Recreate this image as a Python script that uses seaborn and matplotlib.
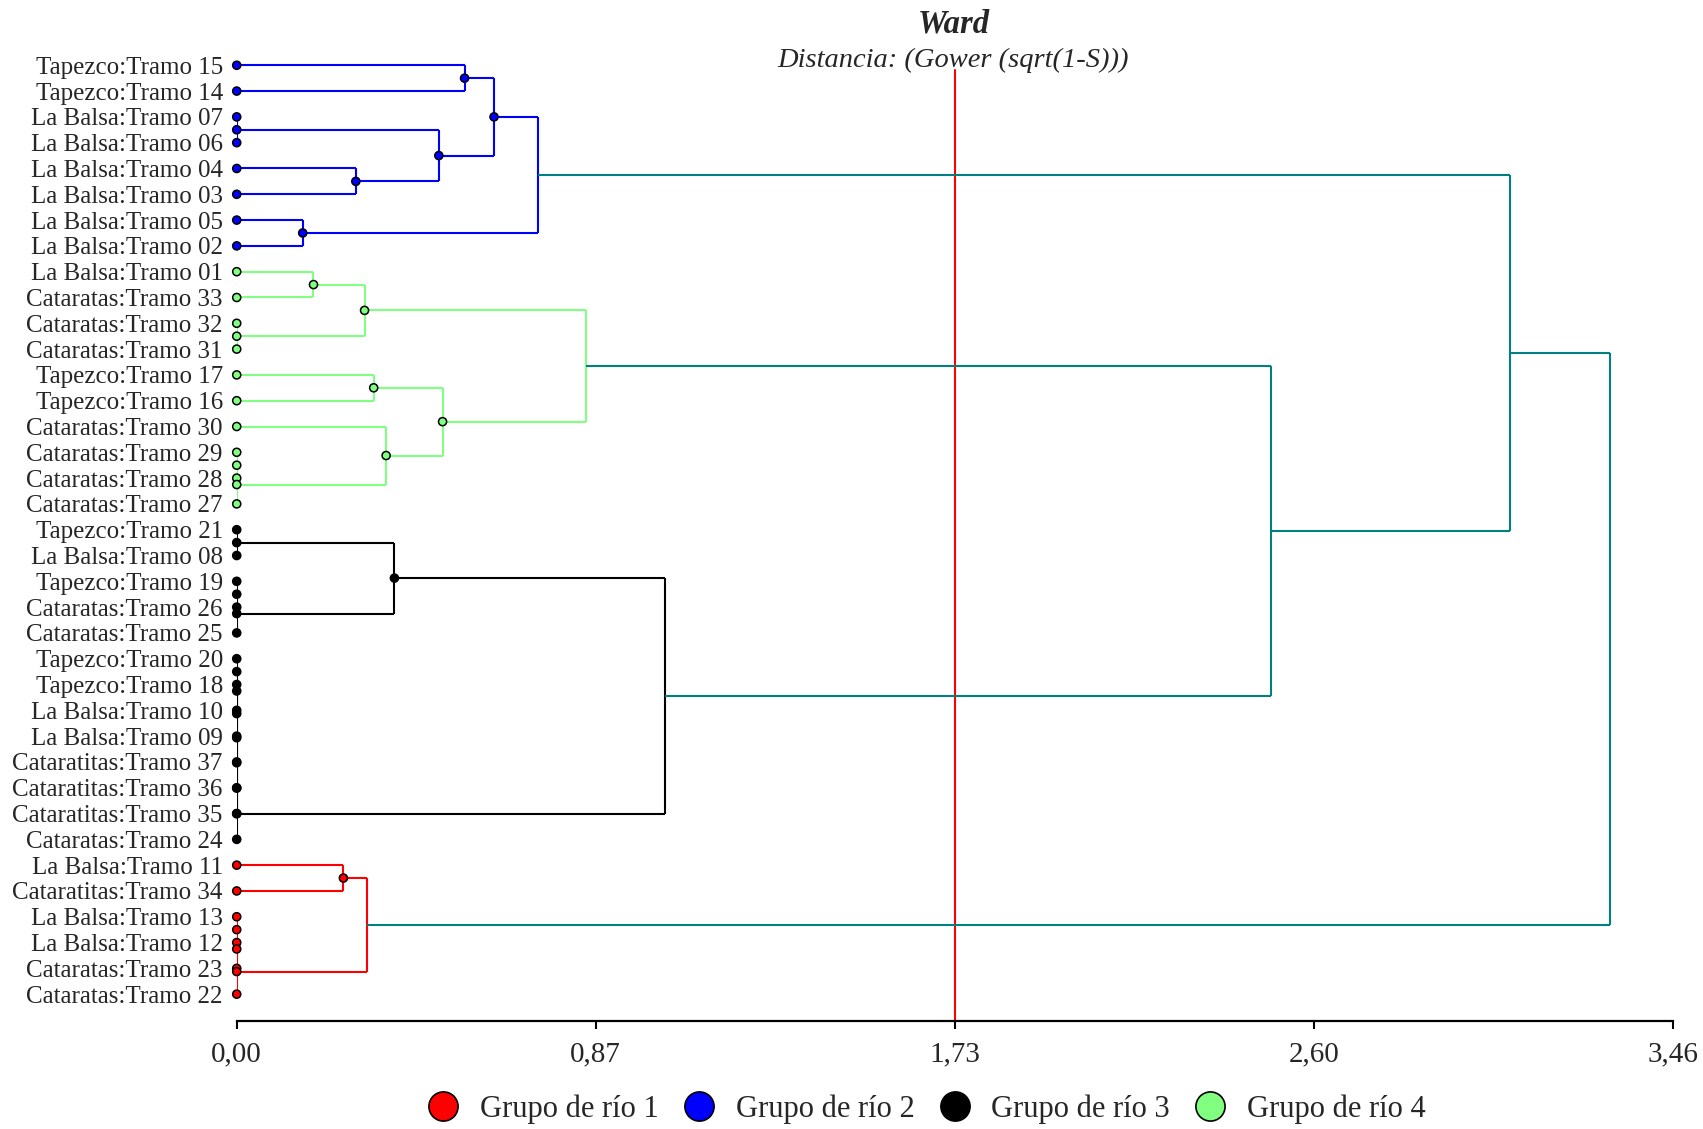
import numpy as np
import pandas as pd
import matplotlib
matplotlib.use("Agg")
import matplotlib.pyplot as plt
from matplotlib.lines import Line2D
import seaborn as sns

# ---- data -------------------------------------------------------------
leaf_labels = [
    "Tapezco:Tramo 15", "Tapezco:Tramo 14", "La Balsa:Tramo 07", "La Balsa:Tramo 06",
    "La Balsa:Tramo 04", "La Balsa:Tramo 03", "La Balsa:Tramo 05", "La Balsa:Tramo 02",
    "La Balsa:Tramo 01", "Cataratas:Tramo 33", "Cataratas:Tramo 32", "Cataratas:Tramo 31",
    "Tapezco:Tramo 17", "Tapezco:Tramo 16", "Cataratas:Tramo 30", "Cataratas:Tramo 29",
    "Cataratas:Tramo 28", "Cataratas:Tramo 27", "Tapezco:Tramo 21", "La Balsa:Tramo 08",
    "Tapezco:Tramo 19", "Cataratas:Tramo 26", "Cataratas:Tramo 25", "Tapezco:Tramo 20",
    "Tapezco:Tramo 18", "La Balsa:Tramo 10", "La Balsa:Tramo 09", "Cataratitas:Tramo 37",
    "Cataratitas:Tramo 36", "Cataratitas:Tramo 35", "Cataratas:Tramo 24", "La Balsa:Tramo 11",
    "Cataratitas:Tramo 34", "La Balsa:Tramo 13", "La Balsa:Tramo 12", "Cataratas:Tramo 23",
    "Cataratas:Tramo 22",
]
leaf_groups = [2, 2, 2, 2, 2, 2, 2, 2,
               4, 4, 4, 4, 4, 4, 4, 4, 4, 4,
               3, 3, 3, 3, 3, 3, 3, 3, 3, 3, 3, 3, 3,
               1, 1, 1, 1, 1, 1]

# Ward linkage: each row joins two clusters (leaf ids 0..36, new ids from 37)
merge_left = [2, 4, 0, 37, 39, 6, 41,
              10, 8, 45, 12, 15, 48, 14, 47, 46,
              18, 20, 54, 53, 23, 57, 58, 59, 60, 61, 62, 56,
              31, 33, 66, 67, 65,
              52, 43, 71]
merge_right = [3, 5, 1, 38, 40, 7, 42,
               11, 9, 44, 13, 16, 17, 49, 50, 51,
               19, 21, 22, 55, 24, 25, 26, 27, 28, 29, 30, 63,
               32, 34, 35, 36, 68,
               64, 70, 69]
merge_height = [0.0, 0.287, 0.549, 0.487, 0.620, 0.159, 0.725,
                0.0, 0.185, 0.308, 0.330, 0.0, 0.0, 0.360, 0.496, 0.841,
                0.0, 0.0, 0.0, 0.380, 0.0, 0.0, 0.0, 0.0, 0.0, 0.0, 0.0, 1.033,
                0.257, 0.0, 0.0, 0.0, 0.314,
                2.492, 3.068, 3.310]

cut_height = 1.73
x_ticks = [0.0, 0.865, 1.73, 2.595, 3.46]
x_tick_labels = ["0,00", "0,87", "1,73", "2,60", "3,46"]
group_ids = [1, 2, 3, 4]
group_names = ["Grupo de río 1", "Grupo de río 2", "Grupo de río 3", "Grupo de río 4"]
group_colors = ["#FF0000", "#0000FF", "#000000", "#80FF80"]
upper_color = "#008080"

# ---- style ------------------------------------------------------------
sns.set_theme(style="white")
plt.rcParams["font.family"] = ["Liberation Serif", "DejaVu Serif"]
palette = dict(zip(group_ids, group_colors))

fig = plt.figure(figsize=(17.03, 11.29), dpi=100)
ax = fig.add_axes([0.1390, 0.0959, 0.8432, 0.8680])

# ---- tree geometry ----------------------------------------------------
n = len(leaf_labels)
node_x = [0.0] * n
node_y = [float(i) for i in range(n)]
node_group = list(leaf_groups)
parent = {}
for k, (a, b, h) in enumerate(zip(merge_left, merge_right, merge_height)):
    nid = n + k
    g = node_group[a] if (node_group[a] == node_group[b] and h < cut_height) else None
    node_x.append(h)
    node_y.append((node_y[a] + node_y[b]) / 2.0)
    node_group.append(g)
    parent[a] = nid
    parent[b] = nid
    color = palette[g] if g is not None else upper_color
    ax.plot([h, h], [node_y[a], node_y[b]], color=color, lw=1.5,
            solid_capstyle="butt", zorder=2)
    for c in (a, b):
        ax.plot([node_x[c], h], [node_y[c], node_y[c]], color=color, lw=1.5,
                solid_capstyle="butt", zorder=2)

# dots on leaves and on inner nodes inside each group
dot_rows = []
for i in range(len(node_x)):
    g = node_group[i]
    if g is None:
        continue
    if i >= n and node_group[parent[i]] != g:
        continue
    dot_rows.append({"x": node_x[i], "y": node_y[i], "grupo": g})
dots = pd.DataFrame(dot_rows)
sns.scatterplot(data=dots, x="x", y="y", hue="grupo", palette=palette, s=34,
                edgecolor="black", linewidth=1.1, legend=False, zorder=5,
                clip_on=False, ax=ax)

# cut line
ax.plot([cut_height, cut_height], [0.2, 37.03], color="#FF0000", lw=1.5, zorder=1)

# ---- axes -------------------------------------------------------------
ax.set_xlim(x_ticks[0], x_ticks[-1])
ax.set_ylim(37.03, -0.95)
ax.set_xticks(x_ticks, x_tick_labels)
ax.set_yticks(range(n), leaf_labels)
ax.set_xlabel("")
ax.set_ylabel("")
ax.tick_params(axis="y", length=0, pad=10, labelsize=18)
ax.tick_params(axis="x", direction="out", length=6, width=1.5, pad=9,
               labelsize=21, bottom=True, color="black")
sns.despine(ax=ax, left=True, top=True, right=True)
ax.spines["bottom"].set_linewidth(1.6)
ax.spines["bottom"].set_color("black")

# ---- titles -----------------------------------------------------------
fig.text(0.5599, 0.9785, "Ward", ha="center", va="center", fontsize=23.5,
         fontweight="bold", fontstyle="italic")
fig.text(0.5599, 0.9465, "Distancia: (Gower (sqrt(1-S)))", ha="center",
         va="center", fontsize=20.5, fontstyle="italic")

# ---- legend -----------------------------------------------------------
handles = [Line2D([], [], ls="none", marker="o", markersize=21,
                  markerfacecolor=c, markeredgecolor="black", markeredgewidth=1.2)
           for c in group_colors]
fig.legend(handles, group_names, loc="center", bbox_to_anchor=(0.5443, 0.0175),
           ncol=4, frameon=False, fontsize=22, handlelength=1.0,
           handletextpad=0.7, columnspacing=0.82)

fig.savefig("out.png", dpi=100, facecolor="white")
